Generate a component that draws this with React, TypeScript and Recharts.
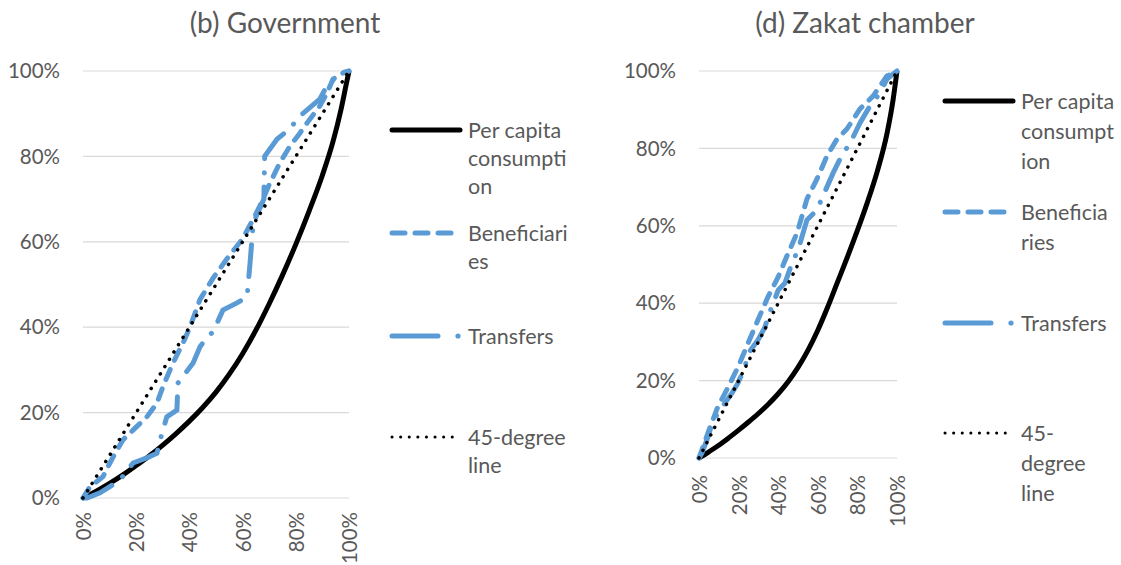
import { LineChart, Line, XAxis, YAxis, CartesianGrid } from "recharts";

const TICKS = [0, 0.2, 0.4, 0.6, 0.8, 1];
const BLUE = "#5B9BD5";
const GREY = "#595959";
const FONT = "Lato, 'Open Sans', sans-serif";

// cumulative share of population (x) vs cumulative share (y)
const govConsumption: [number, number][] = [
  [0, 0], [0.05, 0.016], [0.1, 0.034], [0.15, 0.054], [0.2, 0.076], [0.25, 0.099],
  [0.3, 0.124], [0.35, 0.151], [0.4, 0.18], [0.45, 0.212], [0.5, 0.248], [0.55, 0.29],
  [0.6, 0.338], [0.65, 0.393], [0.7, 0.455], [0.75, 0.522], [0.8, 0.594], [0.85, 0.672],
  [0.9, 0.756], [0.94, 0.835], [0.97, 0.91], [0.99, 0.97], [1, 1],
];
const govBeneficiaries: [number, number][] = [
  [0, 0], [0.026, 0.026], [0.075, 0.05], [0.113, 0.096], [0.15, 0.136], [0.188, 0.159],
  [0.24, 0.19], [0.278, 0.222], [0.3, 0.26], [0.338, 0.316], [0.376, 0.363], [0.402, 0.4],
  [0.44, 0.465], [0.489, 0.515], [0.541, 0.56], [0.579, 0.59], [0.6, 0.607], [0.64, 0.653],
  [0.665, 0.684], [0.703, 0.738], [0.74, 0.785], [0.778, 0.824], [0.816, 0.855],
  [0.842, 0.878], [0.89, 0.918], [0.917, 0.948], [0.94, 0.981], [0.977, 0.995], [1, 1],
];
const govTransfers: [number, number][] = [
  [0, 0], [0.015, 0], [0.064, 0.012], [0.139, 0.042], [0.188, 0.082], [0.24, 0.094],
  [0.278, 0.105], [0.29, 0.136], [0.315, 0.19], [0.353, 0.206], [0.357, 0.269],
  [0.414, 0.316], [0.44, 0.354], [0.466, 0.377], [0.489, 0.389], [0.526, 0.44],
  [0.579, 0.457], [0.617, 0.471], [0.62, 0.494], [0.628, 0.55], [0.64, 0.644],
  [0.655, 0.665], [0.68, 0.7], [0.683, 0.8], [0.729, 0.84], [0.778, 0.865],
  [0.816, 0.895], [0.89, 0.934], [0.917, 0.965], [0.966, 0.995], [1, 1],
];

const zakatConsumption: [number, number][] = [
  [0, 0], [0.05, 0.016], [0.1, 0.033], [0.15, 0.052], [0.2, 0.072], [0.25, 0.093],
  [0.3, 0.115], [0.35, 0.139], [0.4, 0.166], [0.45, 0.197], [0.5, 0.234], [0.55, 0.278],
  [0.6, 0.33], [0.65, 0.39], [0.7, 0.455], [0.75, 0.52], [0.8, 0.588], [0.85, 0.66],
  [0.9, 0.74], [0.95, 0.84], [0.98, 0.925], [1, 1],
];
const zakatBeneficiaries: [number, number][] = [
  [0, 0], [0.014, 0.02], [0.056, 0.08], [0.095, 0.132], [0.147, 0.183], [0.197, 0.235],
  [0.248, 0.297], [0.298, 0.357], [0.348, 0.416], [0.4, 0.468], [0.444, 0.522],
  [0.495, 0.581], [0.545, 0.669], [0.596, 0.721], [0.646, 0.78], [0.697, 0.824],
  [0.747, 0.85], [0.813, 0.902], [0.879, 0.935], [0.949, 0.987], [0.98, 0.995], [1, 1],
];
const zakatTransfers: [number, number][] = [
  [0, 0], [0.015, 0.013], [0.045, 0.054], [0.066, 0.09], [0.1, 0.12], [0.131, 0.142],
  [0.167, 0.168], [0.197, 0.194], [0.232, 0.235], [0.248, 0.27], [0.298, 0.305],
  [0.333, 0.338], [0.348, 0.364], [0.4, 0.434], [0.434, 0.452], [0.47, 0.504],
  [0.5, 0.537], [0.545, 0.615], [0.596, 0.641], [0.626, 0.677], [0.677, 0.736],
  [0.727, 0.788], [0.76, 0.81], [0.813, 0.866], [0.864, 0.91], [0.914, 0.943],
  [0.949, 0.979], [1, 1],
];
const equality: [number, number][] = [[0, 0], [1, 1]];

const toPoints = (pts: [number, number][]) => pts.map(([x, y]) => ({ x, y }));
const pct = (v: number) => `${Math.round(v * 100)}%`;

function RotatedTick(props: any) {
  const { x, y, payload } = props;
  return (
    <text
      x={x}
      y={y}
      transform={`rotate(-90 ${x} ${y})`}
      textAnchor="end"
      dominantBaseline="central"
      fill={GREY}
      fontSize={20.5}
      fontFamily={FONT}
    >
      {pct(payload.value)}
    </text>
  );
}

type PanelProps = {
  width: number;
  margin: { top: number; right: number; bottom: number; left: number };
  xAxisHeight: number;
  xTickMargin: number;
  consumption: [number, number][];
  beneficiaries: [number, number][];
  transfers: [number, number][];
};

function Panel(p: PanelProps) {
  return (
    <LineChart width={p.width} height={565} margin={p.margin}>
      <CartesianGrid vertical={false} stroke="#d9d9d9" strokeWidth={1.2} />
      <XAxis
        type="number"
        dataKey="x"
        domain={[0, 1]}
        ticks={TICKS}
        interval={0}
        tickFormatter={pct}
        axisLine={false}
        tickLine={false}
        tickSize={0}
        tickMargin={p.xTickMargin}
        height={p.xAxisHeight}
        tick={<RotatedTick />}
      />
      <YAxis
        type="number"
        domain={[0, 1]}
        ticks={TICKS}
        interval={0}
        tickFormatter={pct}
        axisLine={false}
        tickLine={false}
        tickSize={0}
        tickMargin={23}
        width={75}
        tick={{ fill: GREY, fontSize: 20.5, fontFamily: FONT }}
      />
      <Line
        data={toPoints(p.consumption)}
        dataKey="y"
        type="monotone"
        stroke="#000"
        strokeWidth={5}
        dot={false}
        activeDot={false}
        isAnimationActive={false}
      />
      <Line
        data={toPoints(p.beneficiaries)}
        dataKey="y"
        type="linear"
        stroke={BLUE}
        strokeWidth={5}
        strokeDasharray="11 10"
        strokeLinecap="round"
        dot={false}
        activeDot={false}
        isAnimationActive={false}
      />
      <Line
        data={toPoints(p.transfers)}
        dataKey="y"
        type="linear"
        stroke={BLUE}
        strokeWidth={5}
        strokeDasharray="32 14 0.1 14"
        strokeLinecap="round"
        dot={false}
        activeDot={false}
        isAnimationActive={false}
      />
      <Line
        data={toPoints(equality)}
        dataKey="y"
        type="linear"
        stroke="#000"
        strokeWidth={3.5}
        strokeDasharray="0.1 8.5"
        strokeLinecap="round"
        dot={false}
        activeDot={false}
        isAnimationActive={false}
      />
    </LineChart>
  );
}

type LegendSpec = { x1: number; x2: number; tx: number; ys: number[]; lines: string[][]; gap: number };

function LegendBlock({ x1, x2, tx, ys, lines, gap }: LegendSpec) {
  const mid = x2 - 22;
  return (
    <g>
      <line x1={x1} x2={x2} y1={ys[0]} y2={ys[0]} stroke="#000" strokeWidth={5} strokeLinecap="round" />
      <line x1={x1} x2={x2} y1={ys[1]} y2={ys[1]} stroke={BLUE} strokeWidth={5} strokeLinecap="round" strokeDasharray="13 10" />
      <line x1={x1} x2={mid} y1={ys[2]} y2={ys[2]} stroke={BLUE} strokeWidth={5} strokeLinecap="round" />
      <circle cx={x2 - 2} cy={ys[2]} r={2.6} fill={BLUE} />
      <line x1={x1} x2={x2} y1={ys[3]} y2={ys[3]} stroke="#000" strokeWidth={3} strokeLinecap="round" strokeDasharray="0.1 8.5" />
      {lines.map((ls, i) =>
        ls.map((t, j) => (
          <text
            key={`${i}-${j}`}
            x={tx}
            y={ys[i] + j * gap}
            dominantBaseline="central"
            fill={GREY}
            fontSize={21.5}
            fontFamily={FONT}
          >
            {t}
          </text>
        ))
      )}
    </g>
  );
}

const leftLegendLines = [["Per capita", "consumpti", "on"], ["Beneficiari", "es"], ["Transfers"], ["45-degree", "line"]];
const rightLegendLines = [["Per capita", "consumpt", "ion"], ["Beneficia", "ries"], ["Transfers"], ["45-", "degree", "line"]];

export default function App() {
  return (
    <div
      style={{
        position: "absolute",
        left: 0,
        top: 0,
        width: 1121,
        height: 565,
        background: "#fff",
        overflow: "hidden",
        fontFamily: FONT,
      }}
    >
      <div style={{ position: "absolute", left: 0, top: 0 }}>
        <Panel
          width={370}
          margin={{ top: 71, right: 21, bottom: 0, left: 8 }}
          xAxisHeight={67}
          xTickMargin={14}
          consumption={govConsumption}
          beneficiaries={govBeneficiaries}
          transfers={govTransfers}
        />
      </div>
      <div style={{ position: "absolute", left: 616, top: 0 }}>
        <Panel
          width={300}
          margin={{ top: 71, right: 19, bottom: 47, left: 8 }}
          xAxisHeight={60}
          xTickMargin={17}
          consumption={zakatConsumption}
          beneficiaries={zakatBeneficiaries}
          transfers={zakatTransfers}
        />
      </div>
      <svg width={1121} height={565} style={{ position: "absolute", left: 0, top: 0, pointerEvents: "none" }}>
        <text x={285} y={22} textAnchor="middle" dominantBaseline="central" fill={GREY} fontSize={28} fontFamily={FONT}>
          (b) Government
        </text>
        <text x={865} y={22} textAnchor="middle" dominantBaseline="central" fill={GREY} fontSize={28} fontFamily={FONT}>
          (d) Zakat chamber
        </text>
        <LegendBlock x1={392} x2={460} tx={468} ys={[130, 233, 336, 437]} lines={leftLegendLines} gap={28} />
        <LegendBlock x1={945} x2={1013} tx={1021} ys={[101, 212, 323, 433]} lines={rightLegendLines} gap={30} />
      </svg>
    </div>
  );
}
